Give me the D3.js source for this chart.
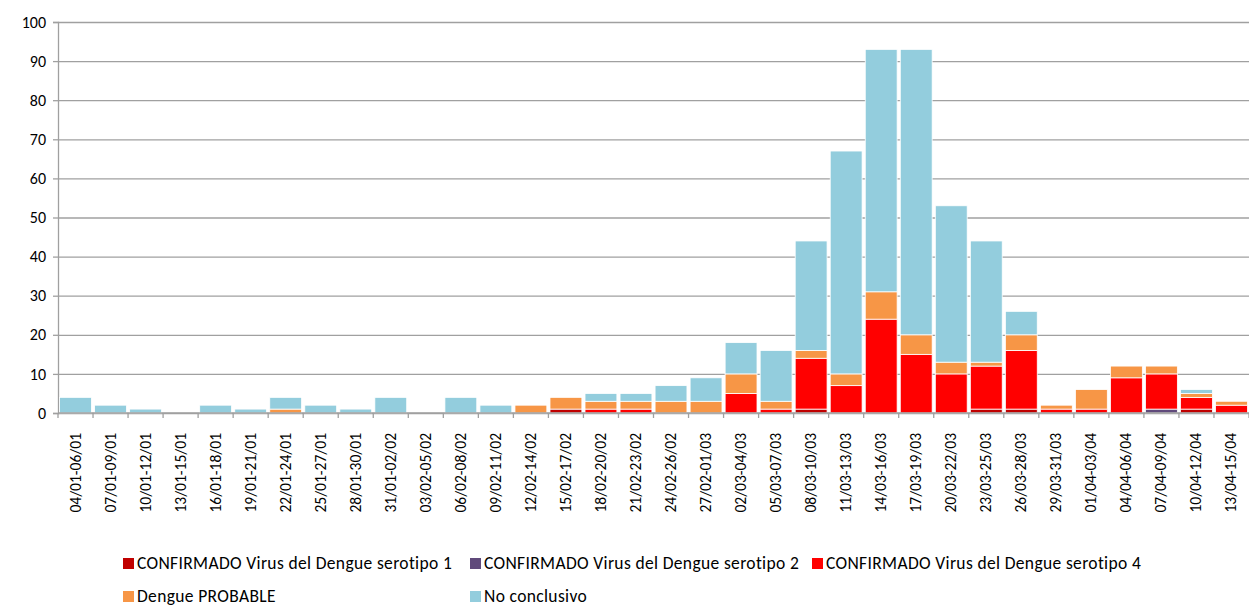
<!DOCTYPE html>
<html>
<head>
<meta charset="utf-8">
<script src="https://cdn.jsdelivr.net/npm/d3@7"></script>
<style>
  body { margin: 0; background: #fff; }
  svg text { font-family: Carlito, Lato, "Open Sans", sans-serif; fill: #000; }
</style>
</head>
<body>
<div id="chart"></div>
<script>
// Stacked bar chart of dengue cases by 3-day period

// Data
var periods = ["04/01-06/01", "07/01-09/01", "10/01-12/01", "13/01-15/01", "16/01-18/01",
  "19/01-21/01", "22/01-24/01", "25/01-27/01", "28/01-30/01", "31/01-02/02", "03/02-05/02",
  "06/02-08/02", "09/02-11/02", "12/02-14/02", "15/02-17/02", "18/02-20/02", "21/02-23/02",
  "24/02-26/02", "27/02-01/03", "02/03-04/03", "05/03-07/03", "08/03-10/03", "11/03-13/03",
  "14/03-16/03", "17/03-19/03", "20/03-22/03", "23/03-25/03", "26/03-28/03", "29/03-31/03",
  "01/04-03/04", "04/04-06/04", "07/04-09/04", "10/04-12/04", "13/04-15/04"];

var serotipo1 = [0,0,0,0,0, 0,0,0,0,0, 0,0,0,0,1, 0,0,0,0,0, 0,1,0,0,0, 0,1,1,0,0, 0,0,1,0];
var serotipo2 = [0,0,0,0,0, 0,0,0,0,0, 0,0,0,0,0, 0,0,0,0,0, 0,0,0,0,0, 0,0,0,0,0, 0,1,0,0];
var serotipo4 = [0,0,0,0,0, 0,0,0,0,0, 0,0,0,0,0, 1,1,0,0,5, 1,13,7,24,15, 10,11,15,1,1, 9,9,3,2];
var probable  = [0,0,0,0,0, 0,1,0,0,0, 0,0,0,2,3, 2,2,3,3,5, 2,2,3,7,5, 3,1,4,1,5, 3,2,1,1];
var noConcl   = [4,2,1,0,2, 1,3,2,1,4, 0,4,2,0,0, 2,2,4,6,8, 13,28,57,62,73, 40,31,6,0,0, 0,0,1,0];

var yTicks = [0, 10, 20, 30, 40, 50, 60, 70, 80, 90, 100];

var seriesNames = ["CONFIRMADO Virus del Dengue serotipo 1", "CONFIRMADO Virus del Dengue serotipo 2",
  "CONFIRMADO Virus del Dengue serotipo 4", "Dengue PROBABLE", "No conclusivo"];
var seriesColors = ["#C00000", "#604A7B", "#FF0000", "#F79646", "#93CDDD"];

var width = 1249;
var height = 606;
var margin = { top: 22, left: 58, right: 0, bottom: 193 };

var svg = d3.select("#chart")
  .append("svg")
  .attr("width", width)
  .attr("height", height);

var plotW = width - margin.left - margin.right;
var plotH = height - margin.top - margin.bottom;

var g = svg.append("g")
  .attr("transform", "translate(" + margin.left + "," + margin.top + ")");

// build rows for stacking
var keys = ["s1", "s2", "s4", "prob", "nc"];
var rows = periods.map(function(p, i) {
  return { period: p, s1: serotipo1[i], s2: serotipo2[i], s4: serotipo4[i], prob: probable[i], nc: noConcl[i] };
});
var stacked = d3.stack().keys(keys)(rows);

var x_scale = d3.scaleBand()
  .domain(periods)
  .range([0, plotW])
  .paddingInner(0.09)
  .paddingOuter(0.045);

var y_scale = d3.scaleLinear()
  .domain([0, 100])
  .range([plotH, 0]);

// gridlines
g.append("g")
  .attr("class", "grid")
  .call(d3.axisLeft(y_scale).tickValues(yTicks).tickSize(-plotW).tickFormat(""))
  .call(function(s) {
    s.select(".domain").remove();
    s.selectAll("line").attr("stroke", "#A0A0A0").attr("stroke-width", 1.3);
  });

// y axis
g.append("g")
  .attr("class", "y axis")
  .call(d3.axisLeft(y_scale).tickValues(yTicks).tickSize(5).tickPadding(7))
  .call(function(s) {
    s.select(".domain").attr("stroke", "#A0A0A0").attr("stroke-width", 1.3);
    s.selectAll("line").attr("stroke", "#A0A0A0").attr("stroke-width", 1.3);
    s.selectAll("text").style("font-size", "16px").attr("fill", "#000");
  });

// bars (skip empty segments)
g.selectAll(".layer")
  .data(stacked)
  .enter()
  .append("g")
  .attr("class", "layer")
  .attr("fill", function(d, i) { return seriesColors[i]; })
  .selectAll("rect")
  .data(function(d) { return d.filter(function(v) { return v[1] - v[0] > 0; }); })
  .enter()
  .append("rect")
  .attr("x", function(d) { return x_scale(d.data.period); })
  .attr("width", x_scale.bandwidth())
  .attr("y", function(d) { return y_scale(d[1]); })
  .attr("height", function(d) { return y_scale(d[0]) - y_scale(d[1]); })
  .attr("stroke", "#fff")
  .attr("stroke-width", 0.8);

// x axis line with tick marks at category boundaries
var xAxis = g.append("g")
  .attr("transform", "translate(0," + plotH + ")");
xAxis.append("line")
  .attr("x1", 0).attr("x2", plotW)
  .attr("stroke", "#A0A0A0").attr("stroke-width", 1.3);
xAxis.selectAll(".bt")
  .data(periods.concat(["end"]))
  .enter()
  .append("line")
  .attr("x1", function(d, i) { return i * plotW / periods.length; })
  .attr("x2", function(d, i) { return i * plotW / periods.length; })
  .attr("y1", 0).attr("y2", 5)
  .attr("stroke", "#A0A0A0").attr("stroke-width", 1.3);

// x labels, rotated
xAxis.selectAll(".xl")
  .data(periods)
  .enter()
  .append("text")
  .attr("class", "xl")
  .attr("transform", function(d) {
    return "translate(" + (x_scale(d) + x_scale.bandwidth() / 2 + 5) + ",20) rotate(-90)";
  })
  .style("text-anchor", "end")
  .style("font-size", "15.5px")
  .text(function(d) { return d; });

// legend
var legendPos = [[123, 563], [470, 563], [812, 563], [123, 596], [470, 596]];
var legend = svg.selectAll(".legend")
  .data(seriesNames)
  .enter()
  .append("g")
  .attr("class", "legend")
  .attr("transform", function(d, i) {
    return "translate(" + legendPos[i][0] + "," + legendPos[i][1] + ")";
  });

legend.append("rect")
  .attr("x", 0).attr("y", -5)
  .attr("width", 11).attr("height", 11)
  .attr("fill", function(d, i) { return seriesColors[i]; });

legend.append("text")
  .attr("x", 14)
  .attr("y", 6)
  .style("font-size", "17.5px")
  .style("letter-spacing", "0.35px")
  .text(function(d) { return d; });
</script>
</body>
</html>
